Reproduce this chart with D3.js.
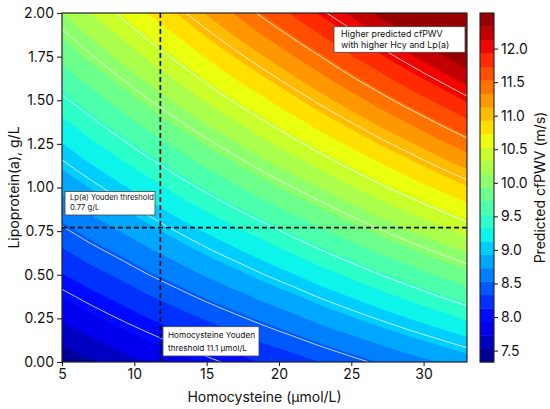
<!DOCTYPE html>
<html>
<head>
<meta charset="utf-8">
<script src="https://cdn.jsdelivr.net/npm/d3@7"></script>
<style>
  body { margin: 0; background: #fff; }
  svg text { font-family: Inter, "Liberation Sans", sans-serif; fill: #111; }
</style>
</head>
<body>
<svg id="chart" width="550" height="409"></svg>
<script>
// Homocysteine (µmol/L) and Lp(a) (g/L) grid used for the prediction surface
var hcyValues = [5, 7, 9, 11, 13, 15, 17, 19, 21, 23, 25, 27, 29, 31, 33];
var lpaValues = [0, 0.25, 0.5, 0.75, 1.0, 1.25, 1.5, 1.75, 2.0];

// predicted cfPWV (m/s), one row per Lp(a) value, bottom row first
var pwvRows = [
  [7.39, 7.51, 7.63, 7.74, 7.85, 7.95, 8.05, 8.15, 8.24, 8.34, 8.44, 8.54, 8.64, 8.73, 8.83],
  [7.76, 7.89, 8.01, 8.13, 8.24, 8.35, 8.46, 8.57, 8.68, 8.80, 8.91, 9.02, 9.13, 9.24, 9.35],
  [8.12, 8.25, 8.37, 8.50, 8.62, 8.75, 8.87, 9.00, 9.12, 9.25, 9.37, 9.50, 9.62, 9.75, 9.87],
  [8.46, 8.60, 8.73, 8.87, 9.01, 9.15, 9.29, 9.42, 9.56, 9.70, 9.84, 9.98, 10.12, 10.25, 10.39],
  [8.79, 8.94, 9.09, 9.24, 9.40, 9.55, 9.70, 9.85, 10.00, 10.15, 10.31, 10.46, 10.61, 10.76, 10.91],
  [9.12, 9.29, 9.45, 9.62, 9.78, 9.95, 10.11, 10.28, 10.44, 10.61, 10.77, 10.94, 11.10, 11.27, 11.43],
  [9.46, 9.63, 9.81, 9.99, 10.17, 10.35, 10.53, 10.70, 10.88, 11.06, 11.24, 11.42, 11.60, 11.77, 11.95],
  [9.79, 9.98, 10.17, 10.36, 10.55, 10.75, 10.94, 11.13, 11.32, 11.51, 11.71, 11.90, 12.09, 12.28, 12.47],
  [10.12, 10.33, 10.53, 10.74, 10.94, 11.15, 11.35, 11.56, 11.76, 11.97, 12.17, 12.38, 12.58, 12.79, 12.99]
];

// filled band boundaries and white contour line levels
var bandLevels = [7.33, 7.53, 7.73, 7.93, 8.13, 8.33, 8.53, 8.73, 8.93, 9.13, 9.33, 9.53, 9.73, 9.93,
                  10.13, 10.33, 10.53, 10.73, 10.93, 11.13, 11.33, 11.53, 11.73, 11.93, 12.13, 12.33, 12.53];
var lineLevels = [8.0, 8.5, 9.0, 9.5, 10.0, 10.5, 11.0, 11.5, 12.0];

var xTicks = [5, 10, 15, 20, 25, 30];
var yTicks = [0, 0.25, 0.5, 0.75, 1.0, 1.25, 1.5, 1.75, 2.0];
var barTicks = [7.5, 8.0, 8.5, 9.0, 9.5, 10.0, 10.5, 11.0, 11.5, 12.0];

// Youden thresholds as drawn
var hcyThreshold = 11.8;
var lpaThreshold = 0.77;

var lpaNote = ["Lp(a) Youden threshold", "0.77 g/L"];
var hcyNote = ["Homocysteine Youden", "threshold 11.1 \u00b5mol/L"];
var topNote = ["Higher predicted cfPWV", "with higher Hcy and Lp(a)"];

var xLabel = "Homocysteine (\u00b5mol/L)";
var yLabel = "Lipoprotein(a), g/L";
var barLabel = "Predicted cfPWV (m/s)";

// matplotlib "jet"
function jet(t) {
  function seg(pts) {
    for (var k = 1; k < pts.length; k++) {
      if (t <= pts[k][0]) {
        var a = pts[k - 1], b = pts[k];
        return a[1] + (b[1] - a[1]) * (t - a[0]) / (b[0] - a[0]);
      }
    }
    return pts[pts.length - 1][1];
  }
  var r = seg([[0, 0], [0.35, 0], [0.66, 1], [0.89, 1], [1, 0.5]]);
  var g = seg([[0, 0], [0.125, 0], [0.375, 1], [0.64, 1], [0.91, 0], [1, 0]]);
  var b = seg([[0, 0.5], [0.11, 1], [0.34, 1], [0.65, 0], [1, 0]]);
  return d3.rgb(r * 255, g * 255, b * 255).toString();
}
var nBands = bandLevels.length - 1;
function bandColor(i) { return jet((i + 0.5) / nBands); }

var svg = d3.select("#chart");
var pLeft = 62, pRight = 467, pTop = 13, pBottom = 362;

var x = d3.scaleLinear().domain([5, 33]).range([pLeft, pRight]);
var y = d3.scaleLinear().domain([0, 2]).range([pBottom, pTop]);

svg.append("clipPath").attr("id", "plotclip")
  .append("rect").attr("x", pLeft).attr("y", pTop)
  .attr("width", pRight - pLeft).attr("height", pBottom - pTop);

// finer grid for smoother contours (bilinear between the grid values)
var k = 10;
var nx = (hcyValues.length - 1) * k + 1, ny = (lpaValues.length - 1) * k + 1;
var fine = new Array(nx * ny);
for (var j = 0; j < ny; j++) {
  var v = j / k, j0 = Math.min(Math.floor(v), lpaValues.length - 2), fy = v - j0;
  for (var i = 0; i < nx; i++) {
    var u = i / k, i0 = Math.min(Math.floor(u), hcyValues.length - 2), fx = u - i0;
    var a = pwvRows[j0][i0], b = pwvRows[j0][i0 + 1], c = pwvRows[j0 + 1][i0], d = pwvRows[j0 + 1][i0 + 1];
    fine[j * nx + i] = a * (1 - fx) * (1 - fy) + b * fx * (1 - fy) + c * (1 - fx) * fy + d * fx * fy;
  }
}
var dH = (hcyValues[hcyValues.length - 1] - hcyValues[0]) / (nx - 1);
var dL = (lpaValues[lpaValues.length - 1] - lpaValues[0]) / (ny - 1);
var gridPath = d3.geoPath(d3.geoTransform({
  point: function(gx, gy) {
    this.stream.point(x(hcyValues[0] + (gx - 0.5) * dH), y(lpaValues[0] + (gy - 0.5) * dL));
  }
}));

var plot = svg.append("g").attr("clip-path", "url(#plotclip)");

var bands = d3.contours().size([nx, ny]).thresholds(bandLevels.slice(0, nBands))(fine);
plot.selectAll("path.band")
  .data(bands)
  .enter().append("path")
  .attr("class", "band")
  .attr("d", gridPath)
  .attr("fill", function(d, i) { return bandColor(i); })
  .attr("stroke", function(d, i) { return bandColor(i); })
  .attr("stroke-width", 0.3);

var lines = d3.contours().size([nx, ny]).thresholds(lineLevels)(fine);
plot.selectAll("path.iso")
  .data(lines)
  .enter().append("path")
  .attr("class", "iso")
  .attr("d", gridPath)
  .attr("fill", "none")
  .attr("stroke", "#fff")
  .attr("stroke-opacity", 0.85)
  .attr("stroke-width", 0.9);

// threshold lines
plot.append("line")
  .attr("x1", x(hcyThreshold)).attr("x2", x(hcyThreshold))
  .attr("y1", pTop).attr("y2", pBottom)
  .attr("stroke", "#111").attr("stroke-width", 1.7).attr("stroke-dasharray", "5,3");
plot.append("line")
  .attr("x1", pLeft).attr("x2", pRight)
  .attr("y1", y(lpaThreshold)).attr("y2", y(lpaThreshold))
  .attr("stroke", "#111").attr("stroke-width", 1.7).attr("stroke-dasharray", "5,3");

// annotation boxes
function note(lines, bx, by, bw, bh, tx, baselines, size) {
  var g = svg.append("g");
  g.append("rect").attr("x", bx).attr("y", by).attr("width", bw).attr("height", bh)
    .attr("fill", "#fff").attr("stroke", "#444").attr("stroke-width", 0.8);
  g.selectAll("text").data(lines).enter().append("text")
    .attr("x", tx).attr("y", function(d, i) { return baselines[i]; })
    .attr("font-size", size)
    .text(function(d) { return d; });
}
note(lpaNote, 65, 191.5, 90, 23.5, 70, [199.6, 210.2], 7.6);
note(hcyNote, 163, 326.7, 96, 29.3, 168, [338.2, 350.8], 8.2);
note(topNote, 334, 26.7, 131, 25.6, 341, [36.6, 48.4], 8.9);

// frame and axes
svg.append("rect").attr("x", pLeft).attr("y", pTop)
  .attr("width", pRight - pLeft).attr("height", pBottom - pTop)
  .attr("fill", "none").attr("stroke", "#222").attr("stroke-width", 1.2);

var xAxis = svg.append("g").attr("transform", "translate(0," + pBottom + ")")
  .call(d3.axisBottom(x).tickValues(xTicks).tickSize(4).tickPadding(3).tickFormat(d3.format("d")));
var yAxis = svg.append("g").attr("transform", "translate(" + pLeft + ",0)")
  .call(d3.axisLeft(y).tickValues(yTicks).tickSize(5).tickPadding(3).tickFormat(d3.format(".2f")));
[xAxis, yAxis].forEach(function(ax) {
  ax.select(".domain").remove();
  ax.selectAll(".tick line").attr("stroke", "#222").attr("stroke-width", 1.1);
  ax.selectAll(".tick text").attr("font-size", 14).attr("fill", "#111");
});

svg.append("text").attr("x", (pLeft + pRight) / 2).attr("y", 402)
  .attr("text-anchor", "middle").attr("font-size", 14).text(xLabel);
svg.append("text")
  .attr("transform", "translate(19," + (pTop + pBottom) / 2 + ") rotate(-90)")
  .attr("text-anchor", "middle").attr("font-size", 14).text(yLabel);

// colour bar
var cbX = 480, cbW = 14;
var cy = d3.scaleLinear().domain([bandLevels[0], bandLevels[nBands]]).range([pBottom, pTop]);
svg.append("g").selectAll("rect")
  .data(d3.range(nBands))
  .enter().append("rect")
  .attr("x", cbX).attr("width", cbW)
  .attr("y", function(i) { return cy(bandLevels[i + 1]); })
  .attr("height", function(i) { return cy(bandLevels[i]) - cy(bandLevels[i + 1]) + 0.4; })
  .attr("fill", function(i) { return bandColor(i); });
svg.append("rect").attr("x", cbX).attr("y", pTop).attr("width", cbW).attr("height", pBottom - pTop)
  .attr("fill", "none").attr("stroke", "#222").attr("stroke-width", 1.1);
var cAxis = svg.append("g").attr("transform", "translate(" + (cbX + cbW) + ",0)")
  .call(d3.axisRight(cy).tickValues(barTicks).tickSize(4).tickPadding(3).tickFormat(d3.format(".1f")));
cAxis.select(".domain").remove();
cAxis.selectAll(".tick line").attr("stroke", "#222").attr("stroke-width", 1.1);
cAxis.selectAll(".tick text").attr("font-size", 14).attr("fill", "#111");

svg.append("text")
  .attr("transform", "translate(545," + (pTop + pBottom) / 2 + ") rotate(-90)")
  .attr("text-anchor", "middle").attr("font-size", 14).text(barLabel);
</script>
</body>
</html>
